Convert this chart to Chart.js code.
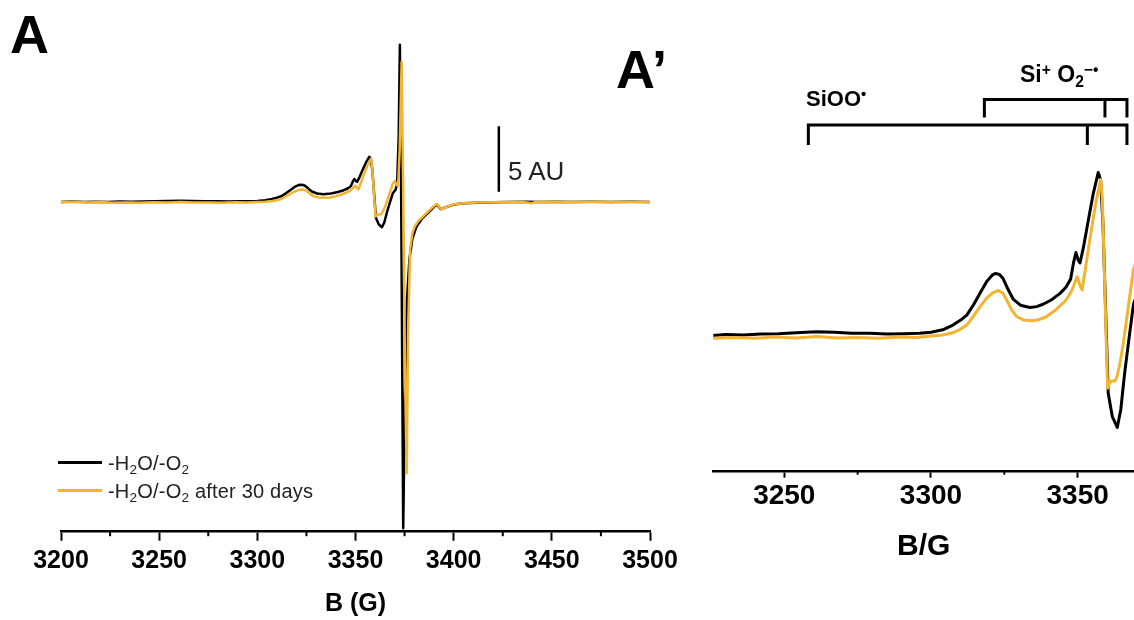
<!DOCTYPE html>
<html>
<head>
<meta charset="utf-8">
<script src="https://cdn.jsdelivr.net/npm/chart.js@4"></script>
<style>
  html, body { margin: 0; padding: 0; background: #fff; }
  body { width: 1134px; height: 620px; position: relative; overflow: hidden;
         font-family: "Liberation Sans", Arial, sans-serif; color: #000; }
  canvas { position: absolute; top: 0; }
  #specA { left: 0; }
  #specB { left: 690px; }
  .lbl { position: absolute; line-height: 1; white-space: nowrap; }
  .panel { font-size: 54px; font-weight: bold; }
  .tag { font-weight: bold; }
  .lbl sub, .lbl sup { font-size: 0.68em; line-height: 0; }
  .lbl sub { vertical-align: -0.3em; }
  .lbl sup { vertical-align: 0.45em; }
  .legend-row { position: absolute; left: 58px; height: 0; }
  .legend-row i { position: absolute; left: 0; top: -1px; width: 44px; height: 3px; }
  .legend-row span { position: absolute; left: 50px; top: -9px; font-size: 20px; line-height: 1;
                     letter-spacing: 0.2px; color: #222; white-space: nowrap; }
  .legend-row sub { font-size: 0.68em; line-height: 0; vertical-align: -0.3em; }
</style>
</head>
<body>
<canvas id="specA" width="700" height="620"></canvas>
<canvas id="specB" width="444" height="620"></canvas>

<div class="lbl panel" style="left:10px; top:7px;">A</div>
<div class="lbl panel" style="left:616px; top:42px;">A’</div>
<div class="lbl" style="left:508px; top:158px; font-size:26px; color:#222;">5 AU</div>
<div class="lbl tag" style="left:806px; top:88px; font-size:22px;">SiOO<sup>•</sup></div>
<div class="lbl tag" style="left:1020px; top:63px; font-size:23px;">Si<sup>+</sup> O<sub>2</sub><sup>−•</sup></div>
<div id="legend"></div>

<script>
// EPR spectra, field in gauss, signal in arbitrary units (baseline = 0)
const fieldDry = [3200, 3206, 3212, 3218, 3224, 3230, 3236, 3242, 3248, 3254, 3261, 3267, 3273, 3279,
  3285, 3291, 3296, 3300, 3304, 3307.5, 3310, 3312.2, 3314.5, 3316.7, 3319, 3321, 3322, 3323.3, 3324.5,
  3326.3, 3328, 3330.5, 3333.7, 3336, 3338.2, 3341, 3344, 3346, 3347.6, 3348.6, 3349.4, 3350.2, 3350.8,
  3352, 3353.5, 3355.3, 3357, 3357.8, 3358.6, 3359.5, 3360.4, 3361.8, 3363.5, 3364.7, 3366, 3367.5, 3369,
  3370.5, 3371.2, 3372, 3372.6, 3373.2, 3374.3, 3375.2, 3376.2, 3377.5, 3379, 3381, 3384, 3387.5, 3390.5,
  3391.5, 3393.5, 3396, 3400, 3405, 3412, 3420, 3428, 3436, 3444, 3452, 3460, 3470, 3480, 3490, 3500];
const signalDry = [0.00, 0.03, -0.01, 0.02, 0.00, 0.03, 0.02, 0.04, 0.05, 0.07, 0.09, 0.08, 0.06, 0.06,
  0.04, 0.05, 0.06, 0.08, 0.13, 0.23, 0.33, 0.44, 0.66, 0.90, 1.15, 1.29, 1.32, 1.30, 1.22,
  0.98, 0.78, 0.65, 0.60, 0.62, 0.67, 0.76, 0.90, 1.03, 1.20, 1.55, 1.76, 1.60, 1.54,
  1.88, 2.40, 3.00, 3.45, 3.30, 2.40, 0.60, -1.20, -1.70, -1.93, -1.55, -0.79, -0.05, 0.66,
  0.95, 1.40, 5.0, 12.0, 2.0, -24.9, -15.0, -7.5, -4.3, -2.8, -1.9, -1.25, -0.75, -0.30,
  -0.20, -0.55, -0.40, -0.20, -0.10, -0.05, -0.02, 0.00, 0.02, 0.00, 0.01, -0.01, 0.01, 0.00, 0.01, 0.00];

const fieldAged = [3200, 3207, 3214, 3220, 3226, 3233, 3240, 3247, 3254, 3261, 3268, 3275, 3282, 3289,
  3295, 3300, 3304, 3307.5, 3310, 3312.2, 3314.5, 3316.7, 3319, 3321, 3323, 3324.5, 3325.8, 3327.5,
  3329.2, 3331.5, 3334.7, 3337, 3339.4, 3342.5, 3346.1, 3348, 3349.8, 3350.6, 3351.5, 3352.6, 3353.8,
  3356, 3357.8, 3358.4, 3358.9, 3359.6, 3360.2, 3361, 3361.6, 3362.6, 3363.3, 3364.5, 3365.5, 3367, 3369,
  3370.1, 3371, 3371.7, 3372.5, 3373.5, 3374.2, 3375.3, 3376.1, 3376.8, 3377.8, 3379, 3380.1, 3382,
  3384.3, 3387.5, 3390, 3391.2, 3392, 3393.7, 3396, 3400, 3405, 3412, 3420, 3428, 3436, 3439.8, 3441.5,
  3448, 3456, 3464, 3472, 3480, 3490, 3500];
const signalAged = [-0.02, 0.01, -0.03, 0.00, -0.05, -0.03, -0.05, -0.02, -0.04, -0.01, -0.04, -0.03, -0.05, -0.02,
  -0.03, 0.00, 0.02, 0.07, 0.14, 0.23, 0.42, 0.62, 0.80, 0.91, 0.96, 0.90, 0.76, 0.55,
  0.41, 0.34, 0.32, 0.35, 0.41, 0.55, 0.76, 0.96, 1.25, 1.10, 0.97, 1.40, 1.90,
  2.75, 3.30, 2.90, 1.80, 0.20, -1.10, -0.98, -0.95, -0.95, -0.88, -0.55, -0.18, 0.50, 1.40,
  1.60, 1.30, 1.20, 4.0, 10.7, 2.0, -14.0, -20.7, -10.0, -3.6, -2.4, -1.9, -1.45,
  -1.12, -0.65, -0.30, -0.15, -0.25, -0.55, -0.40, -0.18, -0.10, -0.04, -0.02, 0.00, -0.01, -0.10, 0.00,
  0.01, -0.01, 0.00, 0.01, -0.01, 0.00, 0.00];

const seriesLabels = ['-H<sub>2</sub>O/-O<sub>2</sub>', '-H<sub>2</sub>O/-O<sub>2</sub> after 30 days'];
const seriesColors = ['#000000', '#f2b431'];

// axis ticks
const majorTicksA = [3200, 3250, 3300, 3350, 3400, 3450, 3500];
const minorTicksA = [3225, 3275, 3325, 3375, 3425, 3475];
const majorTicksB = [3250, 3300, 3350];
const minorTicksB = [3275, 3325];

// 5 AU scale bar on the full spectrum
const scaleBar = { field: 3423, from: 0.78, to: 5.78 };
// line-position brackets on the zoomed spectrum (field marks, y levels in AU)
const brackets = [
  { marks: [3258.2, 3353.3, 3366.8], level: 4.45, drop: 4.03 },
  { marks: [3318.2, 3359.3, 3366.8], level: 4.99, drop: 4.61 }
];

Chart.defaults.font.family = '"Liberation Sans", Arial, sans-serif';
Chart.defaults.color = '#000';

const toPoints = (xs, ys) => xs.map((x, i) => ({ x, y: ys[i] }));

function makeDatasets(width) {
  return [
    { data: toPoints(fieldDry, signalDry), borderColor: seriesColors[0], order: 2 },
    { data: toPoints(fieldAged, signalAged), borderColor: seriesColors[1], order: 1 }
  ].map(d => Object.assign(d, { borderWidth: width, pointRadius: 0, tension: 0, fill: false,
                                borderJoinStyle: 'round', borderCapStyle: 'round' }));
}

const minorTicks = {
  id: 'minorTicks',
  afterDraw(chart, args, opts) {
    const sx = chart.scales.x, ctx = chart.ctx;
    ctx.save();
    ctx.strokeStyle = '#000';
    ctx.lineWidth = 2;
    opts.values.forEach(v => {
      const px = sx.getPixelForValue(v);
      ctx.beginPath();
      ctx.moveTo(px, sx.top);
      ctx.lineTo(px, sx.top + opts.length);
      ctx.stroke();
    });
    ctx.restore();
  }
};

const scaleBarPlugin = {
  id: 'scaleBar',
  afterDatasetsDraw(chart) {
    const { x, y } = chart.scales, ctx = chart.ctx;
    const px = x.getPixelForValue(scaleBar.field);
    ctx.save();
    ctx.strokeStyle = '#000';
    ctx.lineWidth = 2.5;
    ctx.beginPath();
    ctx.moveTo(px, y.getPixelForValue(scaleBar.from));
    ctx.lineTo(px, y.getPixelForValue(scaleBar.to));
    ctx.stroke();
    ctx.restore();
  }
};

const bracketPlugin = {
  id: 'brackets',
  afterDatasetsDraw(chart) {
    const { x, y } = chart.scales, ctx = chart.ctx;
    ctx.save();
    ctx.strokeStyle = '#000';
    ctx.lineWidth = 3;
    ctx.lineJoin = 'miter';
    brackets.forEach(b => {
      const top = y.getPixelForValue(b.level), bot = y.getPixelForValue(b.drop);
      const xs = b.marks.map(m => x.getPixelForValue(m));
      ctx.beginPath();
      ctx.moveTo(xs[0], bot);
      ctx.lineTo(xs[0], top);
      ctx.lineTo(xs[xs.length - 1], top);
      ctx.lineTo(xs[xs.length - 1], bot);
      for (let i = 1; i < xs.length - 1; i++) {
        ctx.moveTo(xs[i], top);
        ctx.lineTo(xs[i], bot);
      }
      ctx.stroke();
    });
    ctx.restore();
  }
};

function xAxis(cfg) {
  return {
    type: 'linear',
    min: cfg.min,
    max: cfg.max,
    afterBuildTicks: s => { s.ticks = cfg.ticks.map(v => ({ value: v })); },
    afterFit: s => { s.height = cfg.height; },
    border: { display: true, color: '#000', width: 2.5 },
    grid: { drawOnChartArea: false, drawTicks: true, tickLength: cfg.tickLength, tickWidth: 2, tickColor: '#000' },
    ticks: { color: '#000', font: { size: cfg.tickSize, weight: 'bold' }, padding: cfg.tickPad,
             maxRotation: 0, autoSkip: false, callback: v => String(v) },
    title: { display: true, text: cfg.title, color: '#000', font: { size: cfg.titleSize, weight: 'bold' },
             padding: { top: 0, bottom: cfg.titlePad } }
  };
}

// full sweep
new Chart(document.getElementById('specA'), {
  type: 'line',
  data: { datasets: makeDatasets(2.5) },
  options: {
    responsive: false,
    animation: false,
    layout: { padding: { left: 61, right: 50, top: 30, bottom: 0 } },
    scales: {
      x: xAxis({ min: 3200, max: 3500, ticks: majorTicksA, height: 88.3, tickLength: 9, tickSize: 25,
                 tickPad: 5, title: 'B (G)', titleSize: 25, titlePad: 1 }),
      y: { display: false, min: -25.17, max: 13.13 }
    },
    plugins: {
      legend: { display: false },
      tooltip: { enabled: false },
      minorTicks: { values: minorTicksA, length: 4.5 }
    }
  },
  plugins: [minorTicks, scaleBarPlugin]
});

// zoom on the low-field region
new Chart(document.getElementById('specB'), {
  type: 'line',
  data: { datasets: makeDatasets(3) },
  options: {
    responsive: false,
    animation: false,
    layout: { padding: { left: 23.3, right: 0, top: 0, bottom: 0 } },
    scales: {
      x: xAxis({ min: 3225.8, max: 3369.2, ticks: majorTicksB, height: 148.3, tickLength: 6, tickSize: 28,
                 tickPad: 2, title: 'B/G', titleSize: 30, titlePad: 55 }),
      y: { display: false, min: -2.863, max: 7.089 }
    },
    plugins: {
      legend: { display: false },
      tooltip: { enabled: false },
      minorTicks: { values: minorTicksB, length: 3 }
    }
  },
  plugins: [minorTicks, bracketPlugin]
});

// legend
const legend = document.getElementById('legend');
seriesLabels.forEach((label, i) => {
  const row = document.createElement('div');
  row.className = 'legend-row';
  row.style.top = (462 + i * 28) + 'px';
  row.innerHTML = '<i style="background:' + seriesColors[i] + '"></i><span>' + label + '</span>';
  legend.appendChild(row);
});
</script>
</body>
</html>
